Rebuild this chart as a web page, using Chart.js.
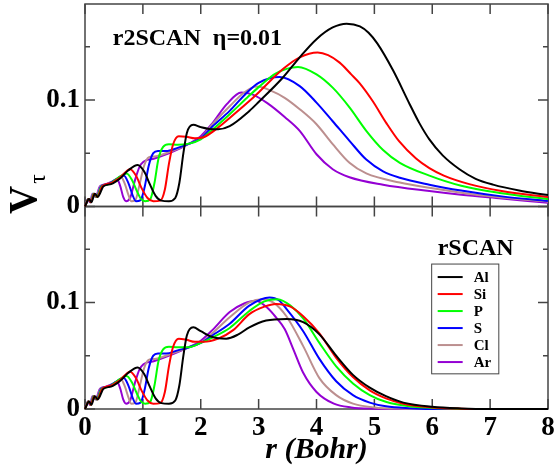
<!DOCTYPE html>
<html>
<head>
<meta charset="utf-8">
<script src="https://cdn.jsdelivr.net/npm/chart.js@4/dist/chart.umd.min.js"></script>
<style>
  html, body { margin: 0; padding: 0; background: #fff; }
  canvas { display: block; }
</style>
</head>
<body>
<canvas id="chart" width="554" height="472"></canvas>
<script>
const SERIF = "'Liberation Serif', 'DejaVu Serif', serif";

const elements = ['Al', 'Si', 'P', 'S', 'Cl', 'Ar'];
const colors = ['#000000', '#ff0000', '#00ff00', '#0000ff', '#bc8f8f', '#9400d3'];

// [r (Bohr), V_tau] - inner shells are the same for both functionals
const alInner = [[0, 0], [0.07, 0.007], [0.11, 0.004], [0.17, 0.012], [0.22, 0.009], [0.32, 0.019], [0.45, 0.021], [0.6, 0.026], [0.75, 0.034], [0.91, 0.039], [1.02, 0.033], [1.12, 0.021], [1.22, 0.010], [1.32, 0.0055], [1.45, 0.005], [1.56, 0.008], [1.63, 0.022], [1.70, 0.050], [1.76, 0.069], [1.87, 0.0766]];
const siInner = [[0, 0], [0.065, 0.007], [0.1, 0.004], [0.16, 0.012], [0.21, 0.009], [0.3, 0.019], [0.45, 0.022], [0.6, 0.027], [0.78, 0.035], [0.88, 0.029], [0.98, 0.017], [1.08, 0.008], [1.18, 0.005], [1.3, 0.0055], [1.38, 0.016], [1.45, 0.040], [1.52, 0.058], [1.62, 0.066]];
const pInner = [[0, 0], [0.06, 0.007], [0.1, 0.004], [0.15, 0.012], [0.2, 0.009], [0.29, 0.019], [0.42, 0.021], [0.55, 0.026], [0.72, 0.031], [0.81, 0.025], [0.9, 0.014], [0.97, 0.007], [1.04, 0.005], [1.13, 0.007], [1.2, 0.022], [1.27, 0.045], [1.35, 0.056], [1.45, 0.0585]];
const sInner = [[0, 0], [0.06, 0.007], [0.095, 0.004], [0.15, 0.012], [0.2, 0.009], [0.28, 0.019], [0.4, 0.021], [0.52, 0.025], [0.67, 0.029], [0.75, 0.022], [0.82, 0.011], [0.88, 0.005], [0.96, 0.006], [1.03, 0.018], [1.1, 0.038], [1.18, 0.050], [1.26, 0.052]];
const clInner = [[0, 0], [0.055, 0.007], [0.09, 0.004], [0.14, 0.012], [0.19, 0.009], [0.27, 0.019], [0.38, 0.021], [0.5, 0.024], [0.62, 0.028], [0.69, 0.021], [0.75, 0.011], [0.8, 0.005], [0.87, 0.006], [0.94, 0.02], [1.02, 0.038], [1.1, 0.046], [1.2, 0.047]];
const arInner = [[0, 0], [0.05, 0.007], [0.085, 0.004], [0.13, 0.012], [0.18, 0.009], [0.26, 0.019], [0.36, 0.021], [0.46, 0.023], [0.55, 0.0257], [0.61, 0.019], [0.66, 0.009], [0.71, 0.005], [0.78, 0.008], [0.86, 0.024], [0.94, 0.037], [1.01, 0.042]];

// r2SCAN, eta = 0.01
const alR2scan = alInner.concat([[2.0, 0.0745], [2.15, 0.0728], [2.3, 0.0725], [2.5, 0.0755], [2.84, 0.0897], [3.0, 0.098], [3.42, 0.121], [3.71, 0.140], [4.0, 0.157], [4.28, 0.168], [4.52, 0.1715], [4.75, 0.169], [4.9, 0.163], [5.05, 0.153], [5.32, 0.128], [5.61, 0.096], [5.78, 0.078], [5.95, 0.063], [6.18, 0.048], [6.47, 0.035], [6.75, 0.026], [7.05, 0.0205], [7.5, 0.015], [8, 0.0107]]);
const siR2scan = siInner.concat([[1.75, 0.0655], [1.9, 0.064], [2.05, 0.065], [2.3, 0.074], [2.5, 0.083], [2.8, 0.097], [3.0, 0.107], [3.42, 0.129], [3.71, 0.140], [4.02, 0.1445], [4.2, 0.142], [4.4, 0.135], [4.6, 0.124], [4.74, 0.116], [4.97, 0.099], [5.21, 0.078], [5.43, 0.061], [5.72, 0.045], [5.95, 0.036], [6.2, 0.029], [6.64, 0.021], [7.2, 0.0145], [8, 0.0088]]);
const pR2scan = pInner.concat([[1.6, 0.058], [1.8, 0.059], [2.0, 0.063], [2.2, 0.072], [2.5, 0.0866], [2.8, 0.102], [3.0, 0.112], [3.3, 0.125], [3.68, 0.131], [4.0, 0.124], [4.28, 0.1115], [4.57, 0.093], [4.86, 0.071], [5.15, 0.053], [5.44, 0.041], [5.95, 0.029], [6.5, 0.0195], [7.2, 0.0125], [8, 0.0068]]);
const sR2scan = sInner.concat([[1.4, 0.052], [1.6, 0.055], [1.8, 0.059], [2.0, 0.064], [2.2, 0.075], [2.5, 0.0897], [2.8, 0.107], [3.0, 0.116], [3.36, 0.1215], [3.71, 0.113], [4.0, 0.0975], [4.28, 0.080], [4.57, 0.0616], [4.86, 0.044], [5.15, 0.033], [5.44, 0.027], [5.95, 0.0205], [6.5, 0.015], [7.2, 0.0095], [8, 0.0052]]);
const clR2scan = clInner.concat([[1.4, 0.05], [1.6, 0.054], [1.8, 0.059], [2.0, 0.064], [2.2, 0.077], [2.5, 0.094], [2.75, 0.107], [2.97, 0.1125], [3.2, 0.109], [3.45, 0.102], [3.71, 0.0913], [4.0, 0.0772], [4.28, 0.0585], [4.57, 0.041], [4.86, 0.031], [5.44, 0.0225], [5.95, 0.0175], [6.5, 0.013], [7.2, 0.0085], [8, 0.0045]]);
const arR2scan = arInner.concat([[1.2, 0.045], [1.5, 0.051], [1.8, 0.059], [2.0, 0.066], [2.2, 0.078], [2.45, 0.096], [2.7, 0.107], [2.9, 0.105], [3.15, 0.097], [3.45, 0.084], [3.71, 0.071], [4.0, 0.049], [4.28, 0.035], [4.57, 0.0275], [5.15, 0.0205], [5.95, 0.0145], [6.5, 0.011], [7.2, 0.0075], [8, 0.0035]]);

// rSCAN
const alRscan = alInner.concat([[2.0, 0.073], [2.2, 0.0675], [2.44, 0.066], [2.65, 0.070], [2.84, 0.0766], [3.13, 0.083], [3.48, 0.0845], [3.77, 0.0815], [4.05, 0.070], [4.34, 0.050], [4.63, 0.032], [4.92, 0.020], [5.2, 0.012], [5.5, 0.006], [6.0, 0.002], [6.5, 0.0005], [7, 0], [8, 0]]);
const siRscan = siInner.concat([[1.75, 0.065], [1.9, 0.063], [2.05, 0.063], [2.3, 0.066], [2.56, 0.074], [2.84, 0.089], [3.1, 0.096], [3.3, 0.0985], [3.55, 0.096], [3.77, 0.087], [4.05, 0.071], [4.34, 0.048], [4.63, 0.030], [4.92, 0.0175], [5.2, 0.010], [5.5, 0.005], [6.0, 0.0015], [6.5, 0.0003], [7, 0], [8, 0]]);
const pRscan = pInner.concat([[1.6, 0.058], [1.8, 0.058], [2.0, 0.062], [2.2, 0.067], [2.5, 0.076], [2.84, 0.092], [3.1, 0.101], [3.33, 0.103], [3.55, 0.097], [3.77, 0.085], [4.05, 0.062], [4.34, 0.040], [4.63, 0.024], [4.92, 0.013], [5.21, 0.0065], [5.6, 0.0025], [6.1, 0.0008], [7, 0], [8, 0]]);
const sRscan = sInner.concat([[1.4, 0.052], [1.6, 0.055], [1.8, 0.058], [2.0, 0.062], [2.2, 0.069], [2.5, 0.080], [2.84, 0.097], [3.19, 0.1047], [3.35, 0.102], [3.48, 0.094], [3.77, 0.073], [4.05, 0.047], [4.34, 0.026], [4.63, 0.013], [4.92, 0.006], [5.2, 0.0025], [5.6, 0.0008], [6.2, 0], [8, 0]]);
const clRscan = clInner.concat([[1.4, 0.05], [1.6, 0.054], [1.8, 0.058], [2.0, 0.062], [2.2, 0.071], [2.5, 0.086], [2.84, 0.100], [3.07, 0.103], [3.25, 0.100], [3.48, 0.087], [3.77, 0.059], [4.05, 0.029], [4.34, 0.013], [4.63, 0.005], [5.0, 0.0015], [5.5, 0.0003], [6, 0], [8, 0]]);
const arRscan = arInner.concat([[1.2, 0.045], [1.5, 0.051], [1.8, 0.058], [2.0, 0.064], [2.2, 0.074], [2.5, 0.091], [2.75, 0.099], [2.95, 0.1016], [3.15, 0.095], [3.3, 0.086], [3.45, 0.075], [3.6, 0.056], [3.77, 0.034], [4.0, 0.016], [4.3, 0.005], [4.6, 0.0015], [5.0, 0.0003], [5.5, 0], [8, 0]]);

const r2scanSeries = [alR2scan, siR2scan, pR2scan, sR2scan, clR2scan, arR2scan];
const rscanSeries = [alRscan, siRscan, pRscan, sRscan, clRscan, arRscan];

const rTicks = [0, 1, 2, 3, 4, 5, 6, 7, 8];
const vTicks = [0, 0.05, 0.1, 0.15];
const vLabels = { 0: '0', 0.1: '0.1' };
const vMax = 0.19;

const AXIS_COLOR = '#444';

function makeDataset(points, i, axis, withLabel) {
  return {
    label: withLabel ? elements[i] : '',
    data: points,
    yAxisID: axis,
    borderColor: colors[i],
    backgroundColor: colors[i],
    borderWidth: 2,
    pointRadius: 0,
    fill: false,
    cubicInterpolationMode: 'monotone',
    clip: 3
  };
}

function panelScale(extra) {
  return Object.assign({
    type: 'linear',
    position: 'left',
    stack: 'panels',
    stackWeight: 1,
    min: 0,
    max: vMax,
    grid: { display: false, drawTicks: false },
    border: { display: false },
    ticks: {
      stepSize: 0.05,
      padding: 5,
      color: '#000',
      font: { family: SERIF, size: 27, weight: 'bold' },
      callback: v => vLabels[Math.round(v * 100) / 100] || ''
    },
    afterFit: s => {
      s.width = 85;
      s.paddingTop = 0;
      s.paddingBottom = 0;
    }
  }, extra);
}

// frame, inward ticks, panel captions, y title and legend
const decorations = {
  id: 'decorations',
  beforeDatasetsDraw(chart) {
    const { ctx, chartArea, scales } = chart;
    const x = scales.x;
    ctx.save();
    ctx.strokeStyle = AXIS_COLOR;
    ctx.lineWidth = 1.5;
    for (const id of ['yTop', 'yBot']) {
      const y = scales[id];
      ctx.strokeRect(chartArea.left, y.top, chartArea.right - chartArea.left, y.bottom - y.top);
      ctx.beginPath();
      for (const r of rTicks) {
        const px = x.getPixelForValue(r);
        ctx.moveTo(px, y.top);
        ctx.lineTo(px, y.top + 10);
        ctx.moveTo(px, y.bottom);
        ctx.lineTo(px, y.bottom - 10);
      }
      for (const v of vTicks) {
        const py = y.getPixelForValue(v);
        const len = vLabels[v] ? 10 : 5;
        ctx.moveTo(chartArea.left, py);
        ctx.lineTo(chartArea.left + len, py);
        ctx.moveTo(chartArea.right, py);
        ctx.lineTo(chartArea.right - len, py);
      }
      ctx.stroke();
    }
    ctx.restore();
  },
  afterDraw(chart) {
    const { ctx, scales } = chart;
    const x = scales.x, yTop = scales.yTop, yBot = scales.yBot;
    ctx.save();
    ctx.fillStyle = '#000';

    ctx.textBaseline = 'middle';
    ctx.textAlign = 'left';
    ctx.font = `bold 24px ${SERIF}`;
    ctx.fillText('r2SCAN  \u03b7=0.01', x.getPixelForValue(0.48), yTop.getPixelForValue(0.157));

    ctx.textAlign = 'center';
    ctx.font = `bold 24px ${SERIF}`;
    ctx.fillText('rSCAN', x.getPixelForValue(6.75), yBot.getPixelForValue(0.150));

    // y title: V with tau subscript, rotated
    ctx.save();
    ctx.translate(26, 200);
    ctx.rotate(-Math.PI / 2);
    ctx.font = `bold 39px ${SERIF}`;
    ctx.fillText('V', 0, 0);
    ctx.font = `24px ${SERIF}`;
    ctx.fillText('\u03c4', 21, 13);
    ctx.restore();

    // legend box for the rSCAN panel
    const left = x.getPixelForValue(5.99);
    const right = x.getPixelForValue(7.15);
    const top = yBot.getPixelForValue(0.136);
    const bottom = yBot.getPixelForValue(0.033);
    ctx.strokeStyle = AXIS_COLOR;
    ctx.lineWidth = 1;
    ctx.strokeRect(left, top, right - left, bottom - top);

    const rowH = 17;
    ctx.font = `bold 15px ${SERIF}`;
    ctx.textAlign = 'left';
    chart.data.datasets.filter(d => d.label).forEach((d, i) => {
      const cy = top + 13 + i * rowH;
      ctx.strokeStyle = d.borderColor;
      ctx.lineWidth = 2;
      ctx.beginPath();
      ctx.moveTo(left + 6, cy);
      ctx.lineTo(left + 31, cy);
      ctx.stroke();
      ctx.fillText(d.label, left + 42, cy + 1);
    });
    ctx.restore();
  }
};

const datasets = r2scanSeries.map((s, i) => makeDataset(s, i, 'yTop', false))
  .concat(rscanSeries.map((s, i) => makeDataset(s, i, 'yBot', true)));

new Chart(document.getElementById('chart'), {
  type: 'line',
  data: { datasets },
  options: {
    responsive: false,
    animation: false,
    devicePixelRatio: 1,
    layout: { padding: { top: 4, right: 6, left: 0, bottom: 0 } },
    plugins: { legend: { display: false }, tooltip: { enabled: false } },
    scales: {
      x: {
        type: 'linear',
        position: 'bottom',
        min: 0,
        max: 8,
        grid: { display: false, drawTicks: false },
        border: { display: false },
        ticks: {
          stepSize: 1,
          padding: 3,
          color: '#000',
          font: { family: SERIF, size: 27, weight: 'bold' }
        },
        title: {
          display: true,
          text: 'r (Bohr)',
          color: '#000',
          padding: { top: 0, bottom: 4 },
          font: { family: SERIF, size: 30, weight: 'bold', style: 'italic' }
        },
        afterFit: s => {
          s.height = 63;
          s.paddingLeft = 0;
          s.paddingRight = 0;
        }
      },
      yBot: panelScale({}),
      yTop: panelScale({})
    }
  },
  plugins: [decorations]
});
</script>
</body>
</html>
